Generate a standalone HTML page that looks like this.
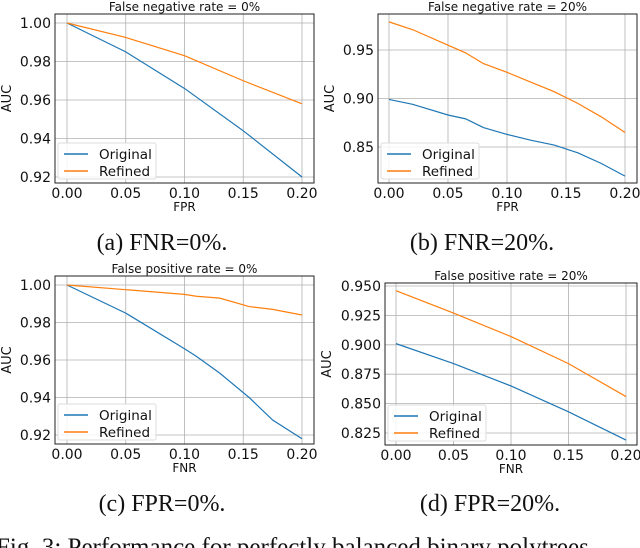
<!DOCTYPE html>
<html><head><meta charset="utf-8"><style>
body{margin:0;background:#fff;width:640px;height:548px;overflow:hidden}
svg{display:block}
</style></head><body>
<svg id="fig" width="640" height="548" xmlns="http://www.w3.org/2000/svg"></svg>
<script>
const xTicks=[0,0.05,0.1,0.15,0.2];
const xTickLabels=["0.00","0.05","0.10","0.15","0.20"];
const aX=[0,0.05,0.1,0.15,0.2];
const aOrig=[1.0,0.985,0.966,0.944,0.920];
const aRef=[1.0,0.9925,0.983,0.970,0.958];
const aYTicks=[0.92,0.94,0.96,0.98,1.00];
const aYLabels=["0.92","0.94","0.96","0.98","1.00"];
const bX=[0,0.02,0.05,0.065,0.08,0.1,0.12,0.14,0.16,0.18,0.2];
const bOrig=[0.899,0.894,0.883,0.879,0.870,0.863,0.857,0.852,0.844,0.833,0.820];
const bRef=[0.979,0.971,0.955,0.947,0.936,0.927,0.917,0.907,0.895,0.881,0.865];
const bYTicks=[0.85,0.90,0.95];
const bYLabels=["0.85","0.90","0.95"];
const cX=[0,0.05,0.1,0.11,0.13,0.155,0.175,0.2];
const cOrig=[1.0,0.985,0.966,0.962,0.953,0.940,0.928,0.918];
const cRef=[1.0,0.9975,0.995,0.994,0.993,0.9885,0.987,0.984];
const cYTicks=[0.92,0.94,0.96,0.98,1.00];
const cYLabels=["0.92","0.94","0.96","0.98","1.00"];
const dX=[0,0.05,0.1,0.15,0.2];
const dOrig=[0.901,0.884,0.865,0.843,0.819];
const dRef=[0.946,0.927,0.907,0.884,0.856];
const dYTicks=[0.825,0.850,0.875,0.900,0.925,0.950];
const dYLabels=["0.825","0.850","0.875","0.900","0.925","0.950"];

const NS="http://www.w3.org/2000/svg";
const svg=document.getElementById('fig');
function mk(tag,attrs,parent,text){const e=document.createElementNS(NS,tag);for(const k in attrs)e.setAttribute(k,attrs[k]);if(text!==undefined)e.textContent=text;(parent||svg).appendChild(e);return e;}

function panel(p){
  const g=mk('g',{});
  
  
  const sx=v=>p.x0+(v-0)/(0.2)*(p.x1-p.x0);
  const sy=v=>p.yA+(v-p.vA)/(p.vB-p.vA)*(p.yB-p.yA);
  xTicks.forEach((t,i)=>{
    const gl=mk('line',{x1:sx(t),x2:sx(t),y1:p.top,y2:p.bot,stroke:'#b0b0b0','stroke-width':0.8},g);
    
    const tl=mk('text',{x:sx(t),y:p.bot+15,'text-anchor':'middle','font-size':14,fill:'#111','font-family':'DejaVu Sans, sans-serif'},g,xTickLabels[i]);
    
  });
  p.yt.forEach((t,i)=>{
    const gl=mk('line',{x1:p.left,x2:p.right,y1:sy(t),y2:sy(t),stroke:'#b0b0b0','stroke-width':0.8},g);
    
    const tl=mk('text',{x:p.left-4,y:sy(t)+5,'text-anchor':'end','font-size':14,fill:'#111','font-family':'DejaVu Sans, sans-serif'},g,p.yl[i]);
    
  });
  const fr=mk('rect',{x:p.left,y:p.top,width:p.right-p.left,height:p.bot-p.top,fill:'none',stroke:'#222','stroke-width':1},g);
  
  const lo=mk('polyline',{points:p.xs.map((x,i)=>sx(x)+','+sy(p.o[i])).join(' '),fill:'none',stroke:'#1f77b4','stroke-width':1.2},g);
  
  const lr=mk('polyline',{points:p.xs.map((x,i)=>sx(x)+','+sy(p.r[i])).join(' '),fill:'none',stroke:'#ff7f0e','stroke-width':1.2},g);
  
  const tt=mk('text',{x:(p.left+p.right)/2,y:p.top-3,'text-anchor':'middle','font-size':12,fill:'#111','font-family':'DejaVu Sans, sans-serif'},g,p.title);
  
  const yl=mk('text',{x:0,y:0,transform:`translate(${p.left-p.yoff},${(p.top+p.bot)/2}) rotate(-90)`,'text-anchor':'middle','font-size':13,fill:'#111','font-family':'DejaVu Sans, sans-serif'},g,'AUC');
  
  const xl=mk('text',{x:(p.left+p.right)/2,y:p.bot+28,'text-anchor':'middle','font-size':12,fill:'#111','font-family':'DejaVu Sans, sans-serif'},g,p.xlab);
  
  const lg=mk('g',{},g);
  
  const lx=p.left+3, ly=p.bot-40;
  mk('rect',{x:lx,y:ly,width:98,height:36,fill:'#fff','fill-opacity':0.85,stroke:'#ddd',rx:2},lg);
  mk('line',{x1:lx+6,x2:lx+30,y1:ly+11,y2:ly+11,stroke:'#1f77b4','stroke-width':1.5},lg);
  mk('line',{x1:lx+6,x2:lx+30,y1:ly+28,y2:ly+28,stroke:'#ff7f0e','stroke-width':1.5},lg);
  const e1=mk('text',{x:lx+41,y:ly+16,'font-size':13.5,fill:'#111','font-family':'DejaVu Sans, sans-serif'},lg,'Original');
  
  const e2=mk('text',{x:lx+41,y:ly+33,'font-size':13.5,fill:'#111','font-family':'DejaVu Sans, sans-serif'},lg,'Refined');
  
  const cap=mk('text',{x:p.capx,y:p.capy,'text-anchor':'middle','font-size':24,fill:'#111','font-family':'Liberation Serif, serif'},svg,p.cap);
  
}
panel({name:'panel-a',left:55,right:314,top:14,bot:183,x0:67,x1:302,vA:1.0,yA:23,vB:0.92,yB:177,xs:aX,o:aOrig,r:aRef,yt:aYTicks,yl:aYLabels,yoff:44,title:'False negative rate =  0%',xlab:'FPR',cap:'(a) FNR=0%.',capx:162,capy:250});
panel({name:'panel-b',left:378,right:637,top:14,bot:183,x0:389,x1:625,vA:0.95,yA:50,vB:0.85,yB:147,xs:bX,o:bOrig,r:bRef,yt:bYTicks,yl:bYLabels,yoff:44,title:'False negative rate = 20%',xlab:'FPR',cap:'(b) FNR=20%.',capx:482,capy:250});
panel({name:'panel-c',left:55,right:314,top:276,bot:444,x0:67,x1:302,vA:1.0,yA:285,vB:0.92,yB:435,xs:cX,o:cOrig,r:cRef,yt:cYTicks,yl:cYLabels,yoff:44,title:'False positive rate =  0%',xlab:'FNR',cap:'(c) FPR=0%.',capx:162,capy:511});
panel({name:'panel-d',left:385,right:637,top:283,bot:445,x0:396,x1:626,vA:0.95,yA:286,vB:0.825,yB:433,xs:dX,o:dOrig,r:dRef,yt:dYTicks,yl:dYLabels,yoff:54,title:'False positive rate = 20%',xlab:'FNR',cap:'(d) FPR=20%.',capx:490,capy:511});
const fc=mk('text',{x:-4,y:555,'font-size':25,fill:'#111','font-family':'Liberation Serif, serif'},svg,'Fig. 3: Performance for perfectly balanced binary polytrees');

</script>
</body></html>
